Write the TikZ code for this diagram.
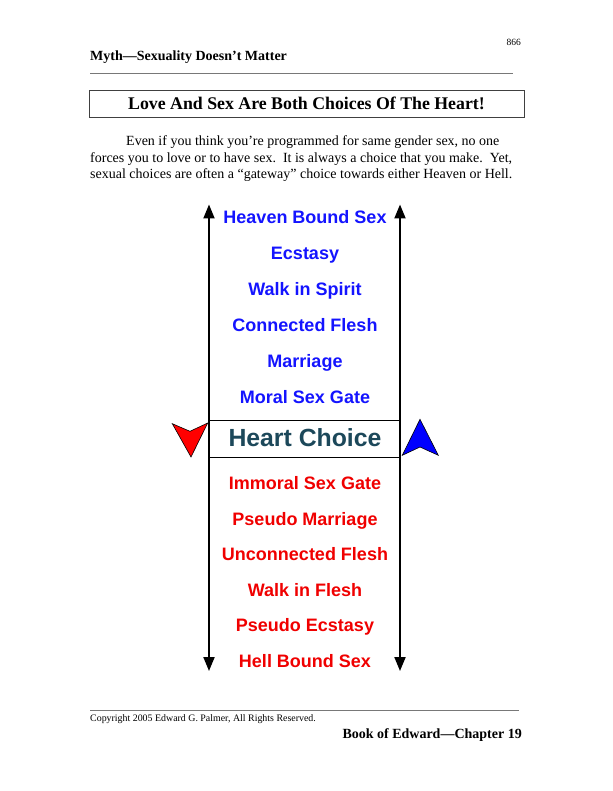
\documentclass[tikz,border=0pt]{standalone}
\usepackage{fontspec}
\setmainfont{Liberation Serif}
\setsansfont{Liberation Sans}
\usetikzlibrary{arrows.meta}
\definecolor{hblue}{RGB}{20,20,255}
\definecolor{hred}{RGB}{240,0,0}
\definecolor{hteal}{RGB}{28,72,90}
\definecolor{rulegray}{RGB}{120,120,120}
\begin{document}
\begin{tikzpicture}[x=1pt,y=-1pt,
  uptext/.style={font=\sffamily\bfseries\fontsize{18}{18}\selectfont, text=hblue, anchor=base, inner sep=0pt},
  downtext/.style={font=\sffamily\bfseries\fontsize{18}{18}\selectfont, text=hred, anchor=base, inner sep=0pt},
  bodytext/.style={font=\rmfamily\fontsize{14}{14}\selectfont, anchor=base west, inner sep=0pt},
  axisline/.style={line width=2pt, {Triangle[width=11pt,length=14pt]}-{Triangle[width=11pt,length=14pt]}},
  bandline/.style={line width=1pt},
  pagerule/.style={draw=rulegray, line width=0.6pt}
]
\useasboundingbox (0,0) rectangle (612,791);
\fill[white] (0,0) rectangle (612,791);

% header
\node[anchor=base east, inner sep=0pt, font=\rmfamily\fontsize{9.5}{10}\selectfont] (pgnum) at (521,46) {866};
\node[anchor=base west, inner sep=0pt, font=\rmfamily\bfseries\fontsize{14}{14}\selectfont] (hdr) at (90,61) {Myth—Sexuality Doesn’t Matter};
\coordinate (hrl) at (90,73);
\coordinate (hrr) at (513,73);
\draw[pagerule] (hrl) -- (hrr);

% title box
\node[draw=black!75, line width=0.8pt, minimum width=435pt, minimum height=27pt, inner sep=0pt] (tbox) at (306.5,103.5) {};
\node[anchor=base, inner sep=0pt, font=\rmfamily\bfseries\fontsize{17.8}{18}\selectfont] (title) at (306.5,110) {Love And Sex Are Both Choices Of The Heart!};

% paragraph
\node[bodytext] (p1) at (126,146) {Even if you think you’re programmed for same gender sex, no one};
\node[bodytext] (p2) at (90,162.5) {forces you to love or to have sex.\ \ It is always a choice that you make.\ \ Yet,};
\node[bodytext] (p3) at (90,179) {sexual choices are often a “gateway” choice towards either Heaven or Hell.};

% axes
\coordinate (lt) at (209,204.5);
\coordinate (lb) at (209,671);
\coordinate (rt) at (400,204.5);
\coordinate (rb) at (400,671);
\draw[axisline] (lt) -- (lb);
\draw[axisline] (rt) -- (rb);
\coordinate (b1l) at (209,420);
\coordinate (b1r) at (400,420);
\coordinate (b2l) at (209,457);
\coordinate (b2r) at (400,457);
\draw[bandline] (b1l) -- (b1r);
\draw[bandline] (b2l) -- (b2r);

% heaven side
\node[uptext] (u1) at (305,223.5) {Heaven Bound Sex};
\node[uptext] (u2) at (305,259.5) {Ecstasy};
\node[uptext] (u3) at (305,295.5) {Walk in Spirit};
\node[uptext] (u4) at (305,331.5) {Connected Flesh};
\node[uptext] (u5) at (305,367.5) {Marriage};
\node[uptext] (u6) at (305,403.5) {Moral Sex Gate};

% heart choice
\node[anchor=base, inner sep=0pt, text=hteal, font=\sffamily\bfseries\fontsize{24.8}{25}\selectfont] (hc) at (305,446.5) {Heart Choice};

% hell side
\node[downtext] (d1) at (305,489.5) {Immoral Sex Gate};
\node[downtext] (d2) at (305,525.1) {Pseudo Marriage};
\node[downtext] (d3) at (305,560.7) {Unconnected Flesh};
\node[downtext] (d4) at (305,596.3) {Walk in Flesh};
\node[downtext] (d5) at (305,631.9) {Pseudo Ecstasy};
\node[downtext] (d6) at (305,667.5) {Hell Bound Sex};

% choice arrowheads
\draw[fill=red, line width=0.6pt, line join=miter] (172.3,423.7) -- (190,431.3) -- (207.7,423) -- (191,457) -- cycle;
\draw[fill=blue, line width=0.6pt, line join=miter] (420,419.3) -- (438.3,455.3) -- (420,447) -- (402.3,455.3) -- cycle;

% footer
\coordinate (frl) at (90,710);
\coordinate (frr) at (519,710);
\draw[pagerule] (frl) -- (frr);
\node[anchor=base west, inner sep=0pt, font=\rmfamily\fontsize{9.9}{10}\selectfont] (copy) at (90,721) {Copyright 2005 Edward G. Palmer, All Rights Reserved.};
\node[anchor=base east, inner sep=0pt, font=\rmfamily\bfseries\fontsize{14}{14}\selectfont] (book) at (522,738) {Book of Edward—Chapter 19};
\end{tikzpicture}
\end{document}
